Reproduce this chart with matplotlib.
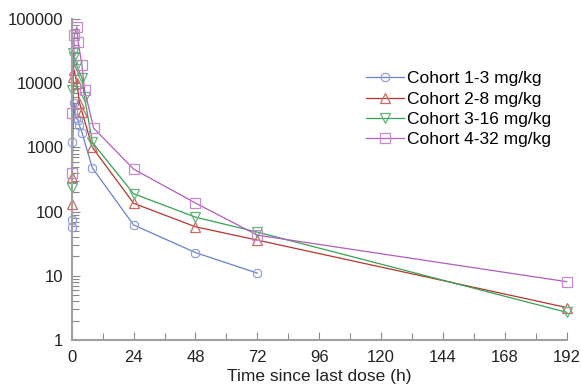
import numpy as np
import matplotlib
matplotlib.use('Agg')
import matplotlib.pyplot as plt
from matplotlib.ticker import FixedLocator, FuncFormatter, LogLocator, MultipleLocator

plt.rcParams['font.family'] = ['Liberation Sans', 'DejaVu Sans']

# concentration-time data (hours, ng/mL)
t1 = [0, 0.1, 0.3, 1, 1.5, 2.5, 3, 4, 8, 24, 48, 72]
c1 = [58, 74, 1200, 4900, 2900, 2700, 2200, 1700, 480, 62, 23, 11]

t2 = [0, 0.3, 0.5, 1, 2, 3, 4, 8, 24, 48, 72, 192]
c2 = [130, 350, 12500, 16000, 10000, 5000, 3600, 1000, 135, 58, 36, 3.2]

t3 = [0, 0.25, 0.5, 1, 2, 4, 5, 8, 24, 48, 72, 192]
c3 = [230, 7800, 30000, 26000, 19000, 12000, 6000, 1200, 190, 82, 48, 2.7]

t4 = [0, 0.3, 1, 2, 2.5, 4, 5, 8.5, 24, 48, 72, 192]
c4 = [400, 3400, 56000, 75000, 44000, 19000, 7800, 2000, 460, 136, 43, 8.1]

labels = ['Cohort 1-3 mg/kg', 'Cohort 2-8 mg/kg', 'Cohort 3-16 mg/kg', 'Cohort 4-32 mg/kg']
line_colors = ['#6a80cf', '#b8342c', '#35a152', '#b25cc0']
mark_colors = ['#95a3dc', '#c86a64', '#62b77a', '#c68ad0']
markers = ['8', '^', 'v', 's']

fig = plt.figure(figsize=(5.81, 3.89), dpi=100)
ax = fig.add_axes([0.1234, 0.126, 0.852, 0.825])

for t, c, lab, lc, mc, m in zip([t1, t2, t3, t4], [c1, c2, c3, c4],
                                 labels, line_colors, mark_colors, markers):
    ax.plot(t, c, color=lc, lw=0.9, marker=m, markersize=7,
            markerfacecolor='none', markeredgecolor=mc, markeredgewidth=0.9,
            label=lab, clip_on=False)

ax.set_yscale('log')
ax.set_ylim(1, 100000)
ax.set_xlim(0, 192)

ax.yaxis.set_major_locator(FixedLocator([1, 10, 100, 1000, 10000, 100000]))
ax.yaxis.set_major_formatter(FuncFormatter(lambda v, p: '%d' % v))
ax.yaxis.set_minor_locator(LogLocator(base=10, subs=np.arange(2, 10)))
ax.yaxis.set_minor_formatter(FuncFormatter(lambda v, p: ''))
ax.xaxis.set_major_locator(MultipleLocator(24))
ax.xaxis.set_minor_locator(MultipleLocator(12))

for s in ['top', 'right']:
    ax.spines[s].set_visible(False)
for s in ['left', 'bottom']:
    ax.spines[s].set_color('#a0a0a0')
    ax.spines[s].set_linewidth(1.5)

ax.tick_params(which='both', direction='in', color='#888888', labelsize=12,
               labelcolor='#222222')
ax.tick_params(which='major', length=6, width=0.8)
ax.tick_params(which='minor', length=5, width=0.8)
ax.tick_params(axis='x', pad=7)
ax.tick_params(axis='y', pad=6)

ax.set_xlabel('Time since last dose (h)', fontsize=12.5, color='#222222', labelpad=3)

ax.legend(loc='upper left', bbox_to_anchor=(0.577, 0.865), frameon=False,
          fontsize=12.5, handlelength=2.2, handletextpad=0.15, labelspacing=0.3,
          borderpad=0)

fig.savefig('out.png', dpi=100)
